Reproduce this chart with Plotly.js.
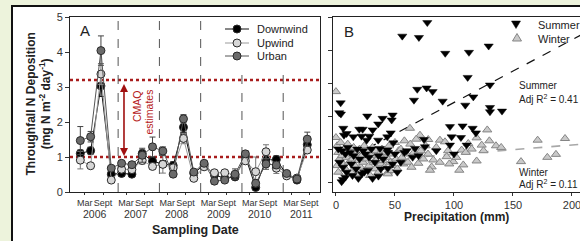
<!DOCTYPE html>
<html><head><meta charset="utf-8">
<script src="https://cdn.plot.ly/plotly-3.0.1.min.js"></script>
<style>
html,body{margin:0;padding:0;width:580px;height:241px;overflow:hidden;background:#fff;position:relative}
#g1{position:absolute;left:0;top:0;width:11px;height:241px;background:#edf3dc}
#g2{position:absolute;left:0;top:0;width:580px;height:5px;background:#edf3dc}
#b1{position:absolute;left:11px;top:5px;width:2px;height:236px;background:#111}
#b2{position:absolute;left:11px;top:5px;width:569px;height:2px;background:#111}
#plot{position:absolute;left:0;top:0;width:600px;height:260px;z-index:2}
</style></head><body>
<div id="g1"></div><div id="g2"></div><div id="b1"></div><div id="b2"></div>
<div id="plot"></div>
<script>
// ---------- Panel A data ----------
const sampleMonths = [1,4,7,10, 13,16,19,22, 25,28,31,34, 37,40,43,46, 49,52,55,58, 61,64,67];
const downwind = [1.10,1.18,3.03,0.51, 0.53,0.51,1.10,0.88, 0.80,0.76,1.85,0.53, 0.78,0.49,0.39,0.43, 1.01,0.13,0.93,0.93, 0.50,0.34,1.35];
const upwind   = [0.91,0.75,3.37,0.34, 0.65,0.64,0.90,0.73, 0.79,0.69,1.53,0.39, 0.72,0.55,0.55,0.49, 0.89,0.58,1.15,0.68, 0.46,0.40,1.20];
const urban    = [1.47,1.58,4.04,0.68, 0.82,0.78,1.05,1.29, 1.17,0.51,2.09,0.57, 0.82,0.31,0.34,0.51, 1.09,0.25,0.80,0.77, 0.53,0.37,1.51];
const downwindErr = [0.10,0.10,0.30,0.08, 0.08,0.05,0.10,0.10, 0.10,0.10,0.15,0.05, 0.05,0.08,0.05,0.05, 0.08,0.05,0.12,0.10, 0.05,0.05,0.10];
const upwindErr   = [0.25,0.05,0.30,0.05, 0.08,0.05,0.10,0.08, 0.25,0.08,0.15,0.05, 0.05,0.05,0.05,0.05, 0.08,0.42,0.20,0.15, 0.05,0.05,0.10];
const urbanErr    = [0.40,0.15,0.42,0.05, 0.08,0.05,0.20,0.28, 0.12,0.08,0.12,0.05, 0.08,0.08,0.05,0.15, 0.08,0.10,0.15,0.10, 0.05,0.05,0.20];
const seriesNames = ['Downwind','Upwind','Urban'];
const years = ['2006','2007','2008','2009','2010','2011'];
const seasonLabels = ['Mar','Sept'];
const cmaqLow = 1.0, cmaqHigh = 3.2;
const yearBreaks = [12,24,36,48,60];

// ---------- Panel B data ----------
const summerPrecip = [77.4,56.2,70.3,92.6,112.7,129.4,111.6,
 68.9,76.8,81.9,66.1,90.4,130.5,116.4,109.6,130.5,130.5,140.7,
 4.0,2.8,4.2,26.5,39.5,48.0,47.2,35.8,
 6.2,9.0,6.8,19.8,22.6,21.7,28.2,14.7,31.1,
 96.6,107.3,115.8,98,105.9,118.6,110.7,96.6,74.6,43.5,46.4,43.5,37.3,26,75.4,35.8,48.6,67,
 2,5,8,10,12,15,18,20,23,25,28,30,33,36,40,44,50,55,60,65,
 3,6,9,13,17,22,27,31,36,44,4.8,6,8,14,19,24,38,48,52,58,70,85,100];
const summerDep = [4.83,4.42,4.38,3.90,3.93,4.12,3.17,
 2.81,2.85,2.74,2.48,2.45,2.94,2.58,2.33,2.26,2.13,2.15,
 2.40,2.10,2.06,2.0,1.93,2.03,1.88,1.76,
 1.63,1.47,1.42,1.60,1.60,1.39,1.39,1.37,1.58,
 1.68,1.70,1.63,1.37,1.35,1.49,1.12,1.12,1.29,1.37,1.49,0.97,1.02,1.27,1.07,1.27,1.19,1.02,
 1.0,0.95,0.85,1.05,0.9,0.8,1.0,0.7,0.95,0.85,0.75,1.0,0.6,0.8,0.7,0.9,0.85,0.6,0.95,0.75,
 0.6,0.45,0.3,0.55,0.4,0.25,0.35,0.11,0.18,0.42,0.01,0.08,0.15,0.2,0.11,0.3,0.4,0.55,0.3,0.9,0.8,0.95,0.85];
const winterPrecip = [0,62.7,71.2,78.2,88.1,92.4,119.2,128.2,123.5,135.6,112.1,106.5,93.8,99.4,107.9,104.5,82.5,81.1,79.7,69.8,119.2,156.8,170.9,194.1,179.1,186.4,
 0,1,2,3,1,2,4,5,6,7,8,9,10,11,12,13,14,15,16,17,18,19,20,21,22,23,24,25,26,27,28,29,30,31,32,33,34,35,36,37,38,39,40,41,42,43,44,45,46,47,48,50,51,52,53,55,56,57,58,60,61,63,64,66,68,72,74,76,78,85,88,95,96,102,110,115,125,130,140,44,46];
const winterDep = [2.74,1.63,1.42,1.29,1.27,1.22,1.34,1.58,1.12,1.10,1.17,0.97,0.77,0.62,0.52,0.36,0.67,0.46,0.36,0.57,0.64,0.62,1.27,1.32,0.75,0.84,
 1.35,1.1,0.9,0.7,0.5,0.3,1.2,0.8,0.55,1.0,0.4,0.75,1.15,0.6,0.9,0.3,0.7,1.05,0.5,0.85,0.25,0.65,1.0,0.45,0.8,0.6,1.1,0.35,0.7,0.9,0.5,0.2,0.8,1.05,0.6,0.4,0.95,0.7,0.3,0.85,0.55,1.0,0.65,0.45,0.9,0.75,0.3,1.1,0.6,0.85,0.5,1.2,0.7,0.4,0.95,1.0,0.75,0.55,1.25,0.85,0.6,1.15,0.45,0.9,1.3,0.95,0.7,1.1,0.85,1.05,0.6,0.95,0.55,0.75,0.9,1.0,0.95,1.25,1.05,0.25,0.35];
const summerFitX = [0,220], summerFitY = [0.51,4.69];
const winterFitX = [0,220], winterFitY = [0.56,1.18];
const seasonNames = ['Summer','Winter'];
const summerR2 = '0.41', winterR2 = '0.11';

// ---------- helpers ----------
const W = 600, H = 260;
const px = v => v / W;
const py = v => 1 - v / H;
const FONT = 'Liberation Sans, Arial, sans-serif';
const colors = {Downwind:'#000000', Upwind:'#d6d6d6', Urban:'#6b6b6b'};
const lineCols = {Downwind:'#111111', Upwind:'#9a9a9a', Urban:'#555555'};
const errCols = {Downwind:'#111111', Upwind:'#777777', Urban:'#444444'};

const seriesVals = [downwind, upwind, urban];
const seriesErr = [downwindErr, upwindErr, urbanErr];

const traces = [];
traces.push({x:winterFitX, y:winterFitY, xaxis:'x2', yaxis:'y2', mode:'lines', line:{color:'#a8a8a8', width:1.6, dash:'dash'}, showlegend:false, hoverinfo:'skip'});
traces.push({x:summerFitX, y:summerFitY, xaxis:'x2', yaxis:'y2', mode:'lines', line:{color:'#111', width:1.2, dash:'dash'}, showlegend:false, hoverinfo:'skip'});
traces.push({x:winterPrecip, y:winterDep, xaxis:'x2', yaxis:'y2', mode:'markers', name:'Winter',
  marker:{symbol:'triangle-up', size:8, color:'#c9c9c9', line:{color:'#858585', width:1}}, showlegend:false});
traces.push({x:summerPrecip, y:summerDep, xaxis:'x2', yaxis:'y2', mode:'markers', name:'Summer',
  marker:{symbol:'triangle-down', size:8, color:'#000', line:{color:'#000', width:0.5}}, showlegend:false});

seriesNames.forEach((n,i)=>{
  traces.push({x:sampleMonths, y:seriesVals[i], name:n, mode:'lines+markers', xaxis:'x', yaxis:'y',
    line:{color:lineCols[n], width:1},
    marker:{symbol:'circle', size:8, color:colors[n], line:{color:'#2a2a2a', width:1}},
    error_y:{type:'data', array:seriesErr[i], visible:true, color:errCols[n], thickness:1, width:3},
    showlegend:false});
});

const tickVals = [], tickText = [];
years.forEach((y,i)=>{ tickVals.push(2.3+12*i, 7.6+12*i); tickText.push(seasonLabels[0], seasonLabels[1]); });

const shapes = [];
[cmaqLow, cmaqHigh].forEach(v=>shapes.push({type:'line', xref:'x domain', x0:0, x1:1, yref:'y', y0:v, y1:v,
  line:{color:'#a81c1c', width:2.5, dash:'dot'}, layer:'below'}));
yearBreaks.forEach((m,i)=>shapes.push({type:'line', xref:'x', x0:m, x1:m, yref:'y', y0:0, y1: i<3 ? 5 : 3.5,
  line:{color:'#555', width:1, dash:'dash'}, layer:'below'}));

const ann = [];
const legA = [29, 43, 56];
seriesNames.forEach((n,i)=>{
  shapes.push({type:'line', xref:'paper', yref:'paper', x0:px(225), x1:px(249), y0:py(legA[i]), y1:py(legA[i]), line:{color:lineCols[n], width:1}});
  shapes.push({type:'circle', xref:'paper', yref:'paper', xsizemode:'pixel', ysizemode:'pixel', xanchor:px(237), yanchor:py(legA[i]),
    x0:-4, x1:4, y0:-4, y1:4, fillcolor:colors[n], line:{color:'#2a2a2a', width:1}});
  ann.push({xref:'paper', yref:'paper', x:px(255), y:py(legA[i]), xanchor:'left', yanchor:'middle', text:n, showarrow:false,
    font:{family:FONT, size:11, color:'#222'}});
});
shapes.push({type:'path', xref:'paper', yref:'paper', xsizemode:'pixel', ysizemode:'pixel', xanchor:px(516), yanchor:py(24),
  path:'M -4.5 3 L 4.5 3 L 0 -4.5 Z', fillcolor:'#000', line:{color:'#000', width:0.5}});
shapes.push({type:'path', xref:'paper', yref:'paper', xsizemode:'pixel', ysizemode:'pixel', xanchor:px(517), yanchor:py(38),
  path:'M -4.5 -3 L 4.5 -3 L 0 4.5 Z', fillcolor:'#c9c9c9', line:{color:'#858585', width:1}});
ann.push({xref:'paper', yref:'paper', x:px(536), y:py(25), xanchor:'left', yanchor:'middle', text:seasonNames[0], showarrow:false, font:{family:FONT, size:11, color:'#222'}});
ann.push({xref:'paper', yref:'paper', x:px(536), y:py(38.5), xanchor:'left', yanchor:'middle', text:seasonNames[1], showarrow:false, font:{family:FONT, size:11, color:'#222'}});

ann.push({xref:'paper', yref:'paper', x:px(78), y:py(30), xanchor:'left', yanchor:'middle', text:'A', showarrow:false, font:{family:FONT, size:15, color:'#222'}});
ann.push({xref:'paper', yref:'paper', x:px(342), y:py(31), xanchor:'left', yanchor:'middle', text:'B', showarrow:false, font:{family:FONT, size:15, color:'#222'}});

years.forEach((y,i)=>ann.push({xref:'x', yref:'paper', x:5.2+12*i, y:py(214), xanchor:'center', yanchor:'middle', text:y, showarrow:false,
  borderpad:0, font:{family:FONT, size:10.5, color:'#333'}}));

ann.push({xref:'paper', yref:'paper', x:px(38), y:py(104.5), xanchor:'center', yanchor:'middle', textangle:-90,
  text:'Throughfall N Deposition<br>(mg N m<sup>-2</sup> day<sup>-1</sup>)', showarrow:false,
  font:{family:FONT, size:12, color:'#222', weight:'bold'}});
ann.push({xref:'paper', yref:'paper', x:px(195), y:py(229.5), xanchor:'center', yanchor:'middle', text:'Sampling Date', showarrow:false,
  borderpad:0, font:{family:FONT, size:12.5, color:'#222', weight:'bold'}});
ann.push({xref:'paper', yref:'paper', x:px(456), y:py(217), xanchor:'center', yanchor:'middle', text:'Precipitation (mm)', showarrow:false,
  font:{family:FONT, size:12, color:'#222', weight:'bold'}});

ann.push({xref:'x', yref:'y', axref:'x', ayref:'y', x:13.7, y:1.03, ax:13.7, ay:3.13, text:'', showarrow:true,
  arrowhead:2, arrowside:'end+start', arrowsize:1, arrowwidth:1.6, arrowcolor:'#a01010', standoff:0, startstandoff:0});
ann.push({xref:'paper', yref:'paper', x:px(137), y:py(88), xanchor:'center', yanchor:'top', textangle:-90, text:'CMAQ', showarrow:false,
  font:{family:FONT, size:10.5, color:'#b52020'}});
ann.push({xref:'paper', yref:'paper', x:px(148), y:py(88), xanchor:'center', yanchor:'top', textangle:-90, text:'estimates', showarrow:false,
  font:{family:FONT, size:10.5, color:'#b52020'}});

ann.push({xref:'paper', yref:'paper', x:px(517), y:py(86), xanchor:'left', yanchor:'middle', text:seasonNames[0], showarrow:false, font:{family:FONT, size:10, color:'#222'}});
ann.push({xref:'paper', yref:'paper', x:px(517), y:py(98.5), xanchor:'left', yanchor:'middle', text:'Adj R<sup>2</sup> = '+summerR2, showarrow:false, font:{family:FONT, size:10, color:'#222'}});
ann.push({xref:'paper', yref:'paper', x:px(517), y:py(172), xanchor:'left', yanchor:'middle', text:seasonNames[1], showarrow:false, font:{family:FONT, size:10, color:'#222'}});
ann.push({xref:'paper', yref:'paper', x:px(517), y:py(183.5), xanchor:'left', yanchor:'middle', text:'Adj R<sup>2</sup> = '+winterR2, showarrow:false, font:{family:FONT, size:10, color:'#222'}});

const axCommon = {showgrid:false, zeroline:false, showline:true, mirror:true, linecolor:'#222', linewidth:1,
  ticks:'outside', tickcolor:'#333', ticklen:4, tickangle:0, tickfont:{family:FONT, size:11, color:'#333'}};

const layout = {
  width:W, height:H, margin:{l:0, r:0, t:0, b:0, pad:0},
  paper_bgcolor:'rgba(0,0,0,0)', plot_bgcolor:'rgba(0,0,0,0)',
  showlegend:false,
  font:{family:FONT, color:'#333'},
  xaxis:Object.assign({}, axCommon, {domain:[px(70), px(320)], range:[-2, 70.7], tickvals:tickVals, ticktext:tickText, ticklen:2,
    tickangle:0, tickfont:{family:FONT, size:9, color:'#333'}, anchor:'y'}),
  yaxis:Object.assign({}, axCommon, {domain:[py(192), py(17)], range:[0,5], dtick:1, anchor:'x'}),
  xaxis2:Object.assign({}, axCommon, {domain:[px(333), px(595)], range:[-2.5, 219.5], tickvals:[0,50,100,150,200], ticklen:3, anchor:'y2'}),
  yaxis2:Object.assign({}, axCommon, {domain:[py(192), py(17)], range:[-0.3,5], tickvals:[0,1,2,3,4,5], showticklabels:false, anchor:'x2'}),
  shapes:shapes, annotations:ann
};
Plotly.newPlot('plot', traces, layout, {staticPlot:true, displayModeBar:false});
</script>
</body></html>
